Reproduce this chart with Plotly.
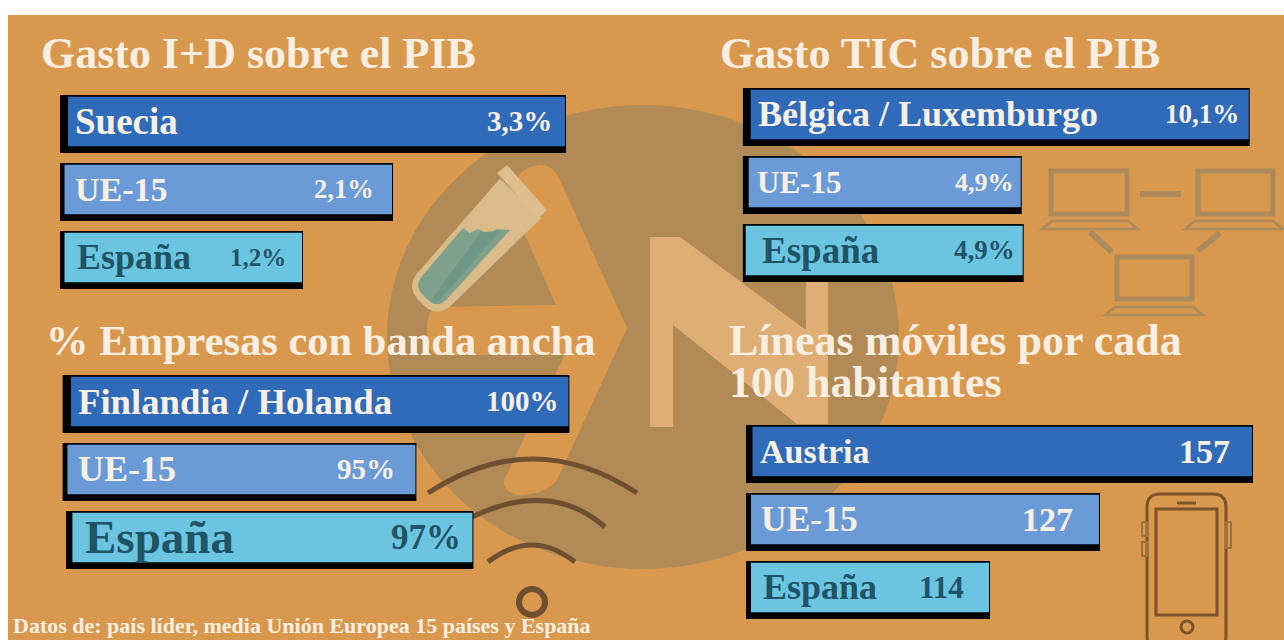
import plotly.graph_objects as go

# ---- data ----
panel_titles = ["Gasto I+D sobre el PIB", "Gasto TIC sobre el PIB",
                "% Empresas con banda ancha", "Líneas móviles por cada", "100 habitantes"]
rows_rd = ["Suecia", "UE-15", "España"]
rows_ict = ["Bélgica / Luxemburgo", "UE-15", "España"]
rows_bb = ["Finlandia / Holanda", "UE-15", "España"]
rows_mob = ["Austria", "UE-15", "España"]
labels_rd = ["3,3%", "2,1%", "1,2%"]
labels_ict = ["10,1%", "4,9%", "4,9%"]
labels_bb = ["100%", "95%", "97%"]
labels_mob = ["157", "127", "114"]
# drawn bar lengths as they appear in the picture (the original is not to scale)
lengths_rd = [506, 333, 243]
lengths_ict = [507, 279, 281]
lengths_bb = [507, 354, 411]
lengths_mob = [507, 354, 244]
footer = "Datos de: país líder, media Unión Europea 15 países y España"

# ---- style / layout ----
BG, BROWN, LIGHT = "#D8994F", "#B28A56", "#DFAE75"
FILLS = ["#2F6BB8", "#6B9BD6", "#6CC5E0"]
TXT = ["#F8F0E4", "#F8F0E4", "#1F5366"]
SERIF = "Liberation Serif"
PITCH, H_BLACK, H_FILL = 68, 58, 49.5

panels = [
    dict(rows=rows_rd, labels=labels_rd, lengths=lengths_rd, x0=60, top=95, W=520,
         inset=[8, 4.5, 4.5], start=[0, 0, 0], lab=[13, 13, 15], val=[12, 17, 15],
         size=[37, 34, 36], vsize=[29, 26.5, 25]),
    dict(rows=rows_ict, labels=labels_ict, lengths=lengths_ict, x0=742.7, top=88, W=520,
         inset=[8, 6, 3], start=[0, 0, 0], lab=[13, 12, 17], val=[9, 6, 7],
         size=[36, 31, 37], vsize=[27, 26, 27]),
    dict(rows=rows_bb, labels=labels_bb, lengths=lengths_bb, x0=62.4, top=375, W=520,
         inset=[8.6, 5, 10], start=[0, 0, 3.6], lab=[14, 14, 21], val=[8, 19, 10],
         size=[36.7, 36, 47], vsize=[29, 29, 35]),
    dict(rows=rows_mob, labels=labels_mob, lengths=lengths_mob, x0=746, top=425, W=520,
         inset=[6.5, 5, 5], start=[0, 0, 0], lab=[12, 13, 15], val=[21, 25, 24],
         size=[34, 35.5, 36], vsize=[34, 34, 31]),
]

fig = go.Figure()
layout = dict(
    width=1284, height=640, margin=dict(l=0, r=0, t=0, b=0),
    paper_bgcolor="white", plot_bgcolor="rgba(0,0,0,0)", showlegend=False,
    barmode="overlay", hovermode=False,
    xaxis=dict(domain=[0, 1], range=[0, 1284], visible=False, fixedrange=True),
    yaxis=dict(domain=[0, 1], range=[640, 0], visible=False, fixedrange=True),
)
annotations = []

# empty canvas trace so that the first subplot exists under the panels
fig.add_trace(go.Scatter(x=[0], y=[0], mode="markers", marker=dict(opacity=0), xaxis="x", yaxis="y"))

for k, p in enumerate(panels, start=2):
    xn, yn = f"x{k}", f"y{k}"
    top = p["top"] - (PITCH - H_BLACK) / 2
    layout[f"xaxis{k}"] = dict(domain=[p["x0"] / 1284, (p["x0"] + p["W"]) / 1284],
                               range=[0, p["W"]], visible=False, fixedrange=True, anchor=yn)
    layout[f"yaxis{k}"] = dict(domain=[1 - (top + 3 * PITCH) / 640, 1 - top / 640],
                               range=[2.5, -0.5], visible=False, fixedrange=True, anchor=xn,
                               type="linear")
    pos = [0, 1, 2]
    fig.add_trace(go.Bar(
        orientation="h", y=pos, x=[l - s for l, s in zip(p["lengths"], p["start"])], base=p["start"],
        width=H_BLACK / PITCH, offset=-H_BLACK / PITCH / 2, marker=dict(color="#000000", line_width=0),
        xaxis=xn, yaxis=yn, name="sombra"))
    fig.add_trace(go.Bar(
        orientation="h", y=pos, x=[l - i - 1 for l, i in zip(p["lengths"], p["inset"])], base=p["inset"],
        width=H_FILL / PITCH, offset=(-H_BLACK / 2 + 1.7) / PITCH, marker=dict(color=FILLS, line_width=0),
        xaxis=xn, yaxis=yn, name="valor"))
    for i in pos:
        cy = i + (-H_BLACK / 2 + 1.7 + H_FILL / 2) / PITCH
        annotations.append(dict(xref=xn, yref=yn, x=p["lab"][i], y=cy, text=p["rows"][i], showarrow=False,
                                xanchor="left", yanchor="middle",
                                font=dict(family=SERIF, size=p["size"][i], color=TXT[i], weight="bold")))
        annotations.append(dict(xref=xn, yref=yn, x=p["lengths"][i] - p["val"][i], y=cy, text=p["labels"][i],
                                showarrow=False, xanchor="right", yanchor="middle",
                                font=dict(family=SERIF, size=p["vsize"][i], color=TXT[i], weight="bold")))

for text, x, y, s in zip(panel_titles, [39, 718, 44, 727, 727], [53, 53, 340, 340, 382], [44, 44.2, 42.5, 44, 44]):
    annotations.append(dict(xref="x", yref="y", x=x, y=y, text=text, showarrow=False, xanchor="left",
                            yanchor="middle", align="left",
                            font=dict(family=SERIF, size=s, color="#F8EFE2", weight="bold")))
annotations.append(dict(xref="x", yref="y", x=11, y=640, text=footer, showarrow=False, xanchor="left",
                        yanchor="bottom", font=dict(family=SERIF, size=22, color="#F8EFE2", weight="bold")))
layout["annotations"] = annotations

# ---- background artwork ----
def poly(points, fill, line=None, lw=0, close=True):
    d = "M" + " L".join(f"{x},{y}" for x, y in points) + (" Z" if close else "")
    return dict(type="path", path=d, xref="x", yref="y", layer="below", fillcolor=fill,
                line=dict(color=line or "rgba(0,0,0,0)", width=lw))

def path(d, fill="rgba(0,0,0,0)", line=None, lw=0):
    return dict(type="path", path=d, xref="x", yref="y", layer="below", fillcolor=fill,
                line=dict(color=line or "rgba(0,0,0,0)", width=lw))

def ring(cx, cy, rx, ry, fill="rgba(0,0,0,0)", line=None, lw=0):
    return dict(type="circle", xref="x", yref="y", layer="below", x0=cx - rx, x1=cx + rx, y0=cy - ry, y1=cy + ry,
                fillcolor=fill, line=dict(color=line or "rgba(0,0,0,0)", width=lw))

def box(x0, y0, x1, y1, fill="rgba(0,0,0,0)", line=None, lw=0):
    return dict(type="rect", xref="x", yref="y", layer="below", x0=x0, x1=x1, y0=y0, y1=y1,
                fillcolor=fill, line=dict(color=line or "rgba(0,0,0,0)", width=lw))

LAP, WIFI, PHONE, BTN = "#AD8A5C", "#6E5030", "#7C5329", "#9A743F"
shapes = [
    box(8, 15, 1284, 640, fill=BG),
    ring(643, 337, 256, 232, fill=BROWN),
    # A
    path("M519,175 Q528,165 540,165 Q552,165 558,176 L627,328 L557,480 Q545,495 517,495 Q500,490 505,478 "
         "L523,440 L565,355 L436,355 Q427,352 427,330 Q427,310 436,307 L556,305 L522,228 Z", fill=BG),
    # N
    poly([(650, 237), (680, 237), (806, 330), (806, 235), (828, 235), (828, 424), (797, 424), (673, 325),
          (673, 427), (650, 427)], LIGHT),
    # test tube
    path("M500,180 L540,218 L449,306 Q436,316 424,304 L418,298 Q408,286 418,274 Z", fill="#D9BC8A", line="#D6BC8C", lw=2),
    path("M463,228 L470,233 L478,229 L488,234 L497,229 L510,230 L446,300 Q436,309 427,299 L422,294 Q414,285 423,275 Z",
         fill="#7FA08B"),
    path("M481,232 L500,231 L440,300 Q434,304 431,300 Z", fill="#6F9788"),
    poly([(497, 173), (507, 165), (547, 210), (538, 218)], "#DEBE8C"),
    # laptops
    box(1051, 171, 1127, 214, line=LAP, lw=5),
    poly([(1052, 221), (1128, 221), (1138, 229), (1042, 229)], "rgba(0,0,0,0)", LAP, 2.5),
    box(1198, 171, 1273, 214, line=LAP, lw=5),
    poly([(1195, 221), (1273, 221), (1283, 229), (1185, 229)], "rgba(0,0,0,0)", LAP, 2.5),
    box(1117, 257, 1192, 299, line=LAP, lw=5),
    poly([(1115, 307), (1193, 307), (1203, 315), (1105, 315)], "rgba(0,0,0,0)", LAP, 2.5),
    path("M1140,194 L1181,194", line=LAP, lw=6),
    path("M1090,232 L1112,252", line=LAP, lw=6),
    path("M1220,233 L1198,251", line=LAP, lw=6),
    # wifi
    path("M428,493 Q533,425 637,493", line=WIFI, lw=5),
    path("M440,535 Q540,470 605,527", line=WIFI, lw=5),
    path("M488,562 Q532,528 575,562", line=WIFI, lw=5),
    ring(532, 602, 13, 13, line=WIFI, lw=6),
    # phone
    path("M1160,494 L1213,494 Q1226,494 1226,507 L1226,636 Q1226,649 1213,649 L1160,649 Q1147,649 1147,636 "
         "L1147,507 Q1147,494 1160,494 Z", line=PHONE, lw=3),
    box(1156, 509, 1217, 615, line=PHONE, lw=3),
    path("M1177,503 L1196,503", line=PHONE, lw=3),
    ring(1187, 627, 6, 6, line=PHONE, lw=3),
    box(1142, 522, 1147, 536, line=BTN, lw=2),
    box(1142, 542, 1147, 556, line=BTN, lw=2),
    box(1226, 522, 1231, 548, line=BTN, lw=2),
]
layout["shapes"] = shapes
fig.update_layout(**layout)
fig.write_html("out.html", config=dict(displayModeBar=False),
               post_script="document.body.style.margin='0';")
